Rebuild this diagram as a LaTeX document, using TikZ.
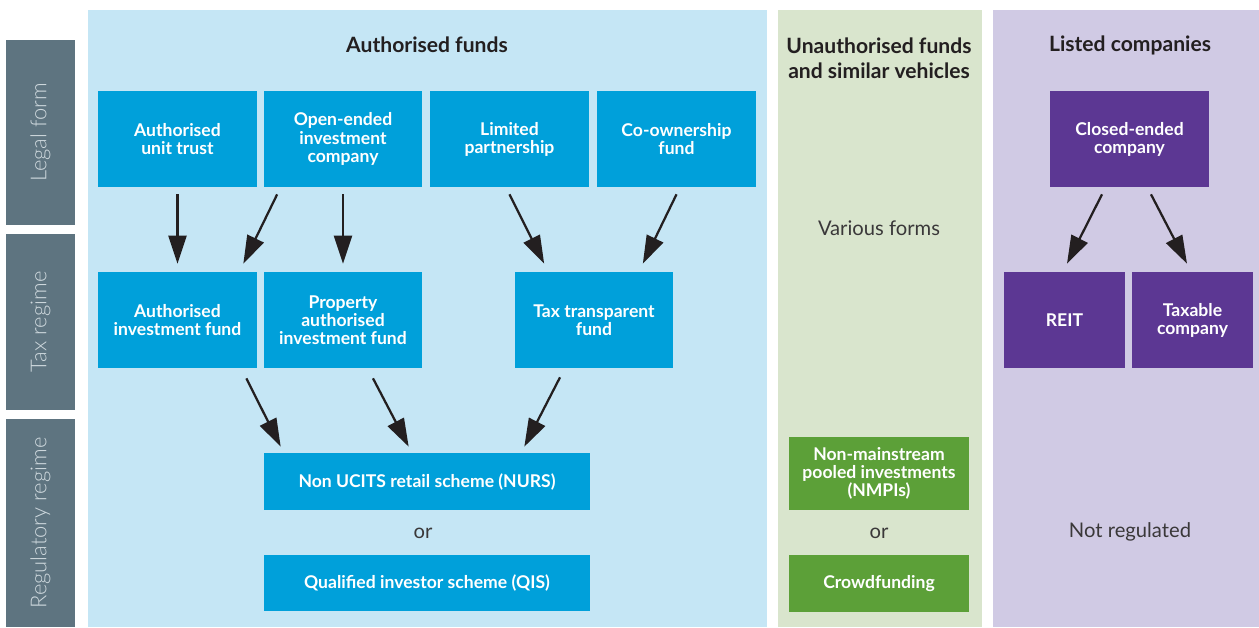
\documentclass[tikz,border=0pt]{standalone}
\usepackage{fontspec}
\setmainfont{Lato}
\newfontfamily\lightfont{Lato Light}
\usetikzlibrary{arrows.meta}
\usetikzlibrary{calc}

\definecolor{tabgrey}{HTML}{5E7480}
\definecolor{tabtext}{HTML}{CFD9DE}
\definecolor{authpanel}{HTML}{C5E6F5}
\definecolor{authbox}{HTML}{00A0DA}
\definecolor{unauthpanel}{HTML}{D9E5CD}
\definecolor{unauthbox}{HTML}{5CA038}
\definecolor{listpanel}{HTML}{D0CAE4}
\definecolor{listbox}{HTML}{5C3793}
\definecolor{inkdark}{HTML}{231F20}
\definecolor{inkgrey}{HTML}{3A3839}

\begin{document}
\begin{tikzpicture}[x=0.02cm,y=-0.02cm]

  \tikzset{tab/.style={fill=tabgrey, text=tabtext, rotate=90, inner sep=0pt,
      minimum height=1.38cm, font=\lightfont\fontsize{12.5}{14}\selectfont} }

  \tikzset{box/.style={text=white, align=center, inner sep=0pt,
      minimum width=3.18cm, minimum height=1.92cm,
      font=\bfseries\fontsize{10}{10.3}\selectfont} }
  \tikzset{fund/.style={box, fill=authbox} }
  \tikzset{pool/.style={box, fill=unauthbox, minimum width=3.6cm} }
  \tikzset{corp/.style={box, fill=listbox} }

  \tikzset{head/.style={text=inkdark, align=center, font=\bfseries\fontsize{12}{14.3}\selectfont} }
  \tikzset{note/.style={text=inkgrey, font=\fontsize{11.5}{14}\selectfont} }

  \tikzset{flow/.style={-{Triangle[length=0.56cm,width=0.36cm]}, line width=0.045cm, draw=inkdark} }

  \useasboundingbox (0,0) rectangle (1259,627);

  % panels
  \fill[authpanel]   (88,10)  rectangle (767,627);
  \fill[unauthpanel] (778,10) rectangle (982,627);
  \fill[listpanel]   (993,10) rectangle (1259,627);

  % row labels
  \node[tab, minimum width=3.70cm] (legal) at (40.5,132.5) {Legal form};
  \node[tab, minimum width=3.52cm] (taxr)  at (40.5,322)   {Tax regime};
  \node[tab, minimum width=4.16cm] (regr)  at (40.5,523)   {Regulatory regime};

  % headings
  \node[head] (authhead)   at (427,45)  {Authorised funds};
  \node[head] (unauthhead) at (879,58)  {Unauthorised funds\\and similar vehicles};
  \node[head] (listhead)   at (1130,45) {Listed companies};

  % authorised funds
  \node[fund] (aut)  at (177.5,139) {Authorised\\unit trust};
  \node[fund] (oeic) at (343,139)   {Open-ended\\investment\\company};
  \node[fund] (lp)   at (509.5,139) {Limited\\partnership};
  \node[fund] (cof)  at (676.5,139) {Co-ownership\\fund};

  \node[fund] (aif)  at (177.5,320) {Authorised\\investment fund};
  \node[fund] (paif) at (343,320)   {Property\\authorised\\investment fund};
  \node[fund] (ttf)  at (594,320)   {Tax transparent\\fund};

  \node[fund, minimum width=6.52cm, minimum height=1.14cm] (nurs) at (427,481.5) {Non UCITS retail scheme (NURS)};
  \node[note] (author) at (423,533) {or};
  \node[fund, minimum width=6.52cm, minimum height=1.12cm] (qis)  at (427,583)   {Qualified investor scheme (QIS)};

  % unauthorised funds
  \node[note] (various) at (879,228) {Various forms};
  \node[pool, minimum height=1.46cm] (nmpi)  at (879,473.5) {Non-mainstream\\pooled investments\\(NMPIs)};
  \node[note] (unauthor) at (879,533) {or};
  \node[pool, minimum height=1.14cm] (crowd) at (879,583.5) {Crowdfunding};

  % listed companies
  \node[corp] (closed) at (1129.5,139) {Closed-ended\\company};
  \node[corp, minimum width=2.42cm] (reit) at (1064.5,320) {REIT};
  \node[corp, minimum width=2.42cm] (tax)  at (1192.5,320) {Taxable\\company};
  \node[note] (notreg) at (1130,532) {Not regulated};

  \draw[flow] ($(aut.south)+(0,7)$)          -- ($(aif.north)+(0,-8)$);
  \draw[flow] ($(oeic.south west)+(14,7)$)   -- ($(aif.north east)+(-14,-8)$);
  \draw[flow] ($(oeic.south)+(0,7)$)         -- ($(paif.north)+(0,-8)$);
  \draw[flow] ($(lp.south)+(0,7)$)           -- ($(ttf.north west)+(30,-8)$);
  \draw[flow] ($(cof.south)+(0,7)$)          -- ($(ttf.north east)+(-31,-8)$);

  \draw[flow] ($(aif.south east)+(-11,10)$)  -- ($(nurs.north west)+(17,-6)$);
  \draw[flow] ($(paif.south)+(30,10)$)       -- ($(nurs.north west)+(145,-6)$);
  \draw[flow] ($(ttf.south)+(-34,9)$)        -- ($(nurs.north east)+(-66,-6)$);

  \draw[flow] ($(closed.south)+(-27.5,7)$)   -- ($(reit.north)+(2.5,-8)$);
  \draw[flow] ($(closed.south)+(21.5,7)$)    -- ($(tax.north)+(-5.5,-8)$);
\end{tikzpicture}
\end{document}
